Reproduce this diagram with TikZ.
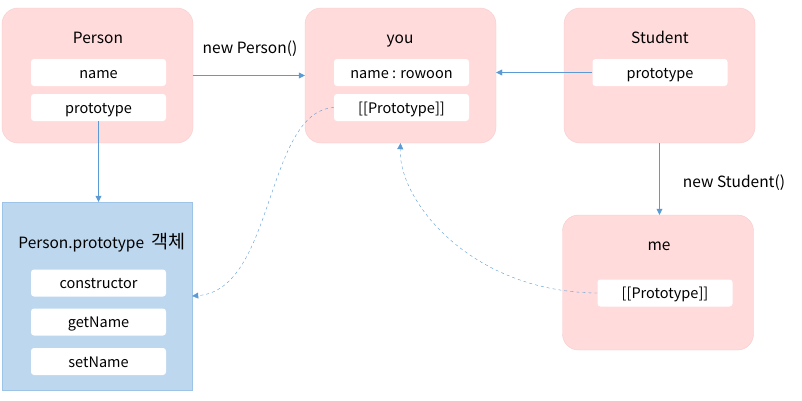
\documentclass[tikz,border=0pt]{standalone}
\usepackage{fontspec}
\setmainfont{Noto Sans CJK KR}
\usetikzlibrary{arrows.meta}
\definecolor{pinkfill}{HTML}{FFDBDB}
\definecolor{pinkline}{HTML}{F8CBCB}
\definecolor{bluefill}{HTML}{BDD7EE}
\definecolor{blueline}{HTML}{9DC3E6}
\definecolor{arrowblue}{HTML}{5B9BD5}
\tikzset{
objbox/.style={draw=pinkline, fill=pinkfill, rounded corners=16pt, minimum width=191pt, minimum height=135pt},
protobox/.style={draw=blueline, fill=bluefill, minimum width=190pt, minimum height=188pt},
field/.style={fill=white, rounded corners=3pt, minimum width=135pt, minimum height=27pt, inner sep=0pt, text height=14pt, text depth=3pt, font=\fontsize{14.5}{16}\selectfont},
title/.style={inner sep=0pt, text height=15pt, text depth=3pt, font=\fontsize{15.5}{18}\selectfont},
link/.style={draw=arrowblue, -{Triangle[length=6pt,width=6pt]}},
dlink/.style={link, dashed}
}

\begin{document}
\begin{tikzpicture}[x=1pt,y=-1pt]
\useasboundingbox (0,0) rectangle (802,400);
\node[objbox] (person) at (97.5,75.5){};
\node[objbox] (you) at (400.5,75.5){};
\node[objbox] (student) at (659.5,75.5){};
\node[objbox] (me) at (658,282.5){};
\node[protobox] (protoobj) at (97,296){};
\node[title] (persontitle) at (98,37){Person};
\node[title] (youtitle) at (400,37){you};
\node[title] (studenttitle) at (660,37){Student};
\node[title] (metitle) at (659,244){me};
\node[title] (prototitle) at (102,242){Person.prototype\hspace{4pt} {\fontsize{18.5}{18}\selectfont 객체}};
\node[field] (pname) at (98.5,72.5){name};
\node[field] (pproto) at (98.5,107.5){prototype};
\node[field] (yname) at (401.5,72.5){name : rowoon};
\node[field] (yproto) at (401.5,107.5){[[Prototype]]};
\node[field] (sproto) at (660,72.5){prototype};
\node[field] (mproto) at (665,293){[[Prototype]]};
\node[field] (ctor) at (98.5,283){constructor};
\node[field] (getn) at (98.5,322){getName};
\node[field] (setn) at (98.5,361.5){setName};
\node[title] (newperson) at (250,47){new Person()};
\node[title] (newstudent) at (734,181){new Student()};
\draw[link] (person) -- (you);
\draw[link] (sproto.west) -- (you.east |- sproto.west);
\draw[link] (pproto.south) -- (pproto.south |- protoobj.north);
\draw[link] (student.south) -- (student.south |- me.north);
\draw[dlink] (yproto.west) .. controls (265,112) and (275,290) .. (protoobj.east);
\draw[dlink] (mproto.west) .. controls (470,292) and (398,200) .. (you.south);
\end{tikzpicture}
\end{document}
